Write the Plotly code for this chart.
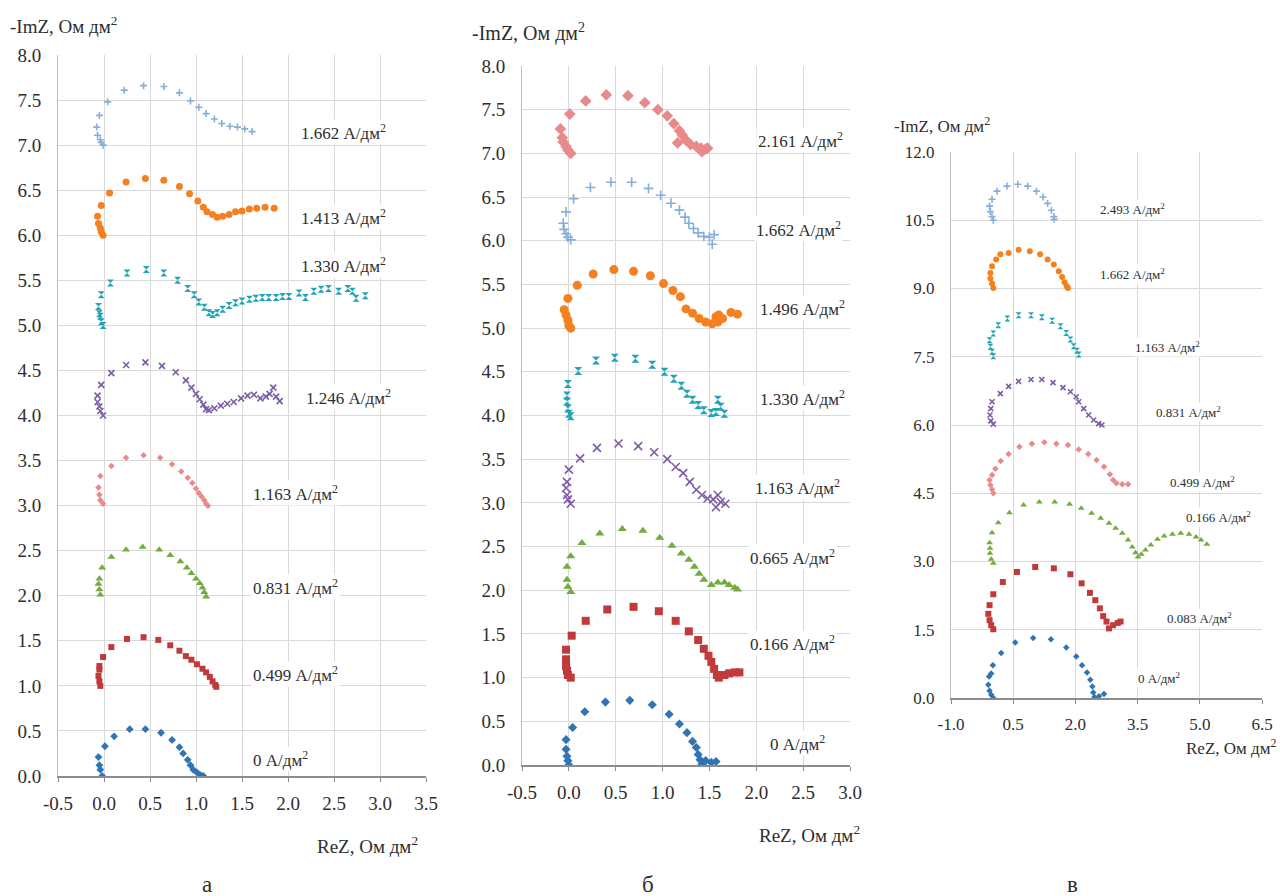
import plotly.graph_objects as go

# ---------------- Tick labels ----------------
ab_y_vals = [0.0, 0.5, 1.0, 1.5, 2.0, 2.5, 3.0, 3.5, 4.0, 4.5, 5.0, 5.5, 6.0, 6.5, 7.0, 7.5, 8.0]
ab_y_text = ["0.0", "0.5", "1.0", "1.5", "2.0", "2.5", "3.0", "3.5", "4.0", "4.5", "5.0", "5.5", "6.0", "6.5", "7.0", "7.5", "8.0"]
a_x_vals = [-0.5, 0.0, 0.5, 1.0, 1.5, 2.0, 2.5, 3.0, 3.5]
a_x_text = ["-0.5", "0.0", "0.5", "1.0", "1.5", "2.0", "2.5", "3.0", "3.5"]
b_x_vals = [-0.5, 0.0, 0.5, 1.0, 1.5, 2.0, 2.5, 3.0]
b_x_text = ["-0.5", "0.0", "0.5", "1.0", "1.5", "2.0", "2.5", "3.0"]
c_x_vals = [-1.0, 0.5, 2.0, 3.5, 5.0, 6.5]
c_x_text = ["-1.0", "0.5", "2.0", "3.5", "5.0", "6.5"]
c_y_vals = [0.0, 1.5, 3.0, 4.5, 6.0, 7.5, 9.0, 10.5, 12.0]
c_y_text = ["0.0", "1.5", "3.0", "4.5", "6.0", "7.5", "9.0", "10.5", "12.0"]

# ---------------- Panel а ----------------
a_labels = ["0 А/дм<sup>2</sup>", "0.499 А/дм<sup>2</sup>", "0.831 А/дм<sup>2</sup>", "1.163 А/дм<sup>2</sup>",
            "1.246 А/дм<sup>2</sup>", "1.330 А/дм<sup>2</sup>", "1.413 А/дм<sup>2</sup>", "1.662 А/дм<sup>2</sup>"]

a_0_re = [-0.02, -0.04, -0.05, -0.06, 0.01, 0.11, 0.28, 0.45, 0.62, 0.74, 0.82, 0.86, 0.91, 0.94, 0.97, 1.01, 1.05, 1.08]
a_0_im = [0.00, 0.07, 0.12, 0.21, 0.33, 0.44, 0.52, 0.52, 0.48, 0.40, 0.32, 0.25, 0.18, 0.12, 0.07, 0.04, 0.01, 0.00]

a_0499_re = [-0.04, -0.05, -0.06, -0.05, -0.05, -0.01, 0.08, 0.25, 0.43, 0.59, 0.72, 0.82, 0.89, 0.95, 1.01, 1.07, 1.11, 1.15, 1.18, 1.21, 1.22]
a_0499_im = [1.00, 1.05, 1.11, 1.18, 1.22, 1.32, 1.43, 1.52, 1.54, 1.51, 1.45, 1.39, 1.33, 1.29, 1.24, 1.19, 1.15, 1.10, 1.05, 1.01, 0.99]

a_0831_re = [-0.04, -0.05, -0.06, -0.05, -0.02, 0.08, 0.24, 0.42, 0.60, 0.72, 0.83, 0.90, 0.95, 1.00, 1.04, 1.07, 1.09, 1.11]
a_0831_im = [2.01, 2.07, 2.13, 2.19, 2.31, 2.43, 2.51, 2.54, 2.51, 2.45, 2.38, 2.31, 2.25, 2.19, 2.14, 2.09, 2.04, 1.99]

a_1163_re = [-0.01, -0.04, -0.05, -0.06, -0.04, 0.08, 0.24, 0.43, 0.61, 0.74, 0.84, 0.91, 0.96, 1.00, 1.03, 1.06, 1.09, 1.11, 1.13]
a_1163_im = [3.02, 3.06, 3.12, 3.20, 3.33, 3.44, 3.53, 3.56, 3.53, 3.46, 3.38, 3.31, 3.25, 3.19, 3.14, 3.10, 3.06, 3.02, 3.00]

a_1246_re = [-0.01, -0.04, -0.05, -0.07, -0.07, -0.03, 0.08, 0.24, 0.45, 0.63, 0.78, 0.89, 0.95, 1.00, 1.04, 1.08, 1.11,
             1.14, 1.20, 1.27, 1.34, 1.41, 1.49, 1.56, 1.63, 1.70, 1.76, 1.80, 1.84, 1.87, 1.91]
a_1246_im = [4.00, 4.05, 4.10, 4.15, 4.22, 4.34, 4.47, 4.56, 4.59, 4.55, 4.48, 4.39, 4.31, 4.24, 4.18, 4.12, 4.07,
             4.06, 4.08, 4.11, 4.13, 4.15, 4.19, 4.22, 4.23, 4.19, 4.21, 4.24, 4.31, 4.21, 4.16]

a_1330_re = [-0.01, -0.03, -0.04, -0.05, -0.06, -0.03, 0.07, 0.25, 0.46, 0.65, 0.80, 0.91, 0.98, 1.03, 1.09, 1.14, 1.18,
             1.23, 1.29, 1.36, 1.43, 1.50, 1.58, 1.65, 1.72, 1.79, 1.87, 1.94, 2.01, 2.12, 2.19, 2.28, 2.36, 2.44, 2.55,
             2.65, 2.70, 2.74, 2.84]
a_1330_im = [5.00, 5.04, 5.10, 5.13, 5.21, 5.34, 5.47, 5.58, 5.62, 5.58, 5.50, 5.41, 5.34, 5.26, 5.20, 5.14, 5.12,
             5.14, 5.18, 5.22, 5.25, 5.27, 5.29, 5.30, 5.31, 5.31, 5.31, 5.32, 5.32, 5.36, 5.31, 5.38, 5.40, 5.41, 5.38,
             5.41, 5.38, 5.30, 5.33]

a_1413_re = [-0.01, -0.03, -0.04, -0.06, -0.07, -0.03, 0.06, 0.24, 0.45, 0.65, 0.82, 0.93, 1.02, 1.08, 1.12, 1.18, 1.23,
             1.29, 1.36, 1.43, 1.50, 1.58, 1.66, 1.75, 1.85]
a_1413_im = [6.00, 6.04, 6.08, 6.13, 6.21, 6.33, 6.47, 6.59, 6.63, 6.61, 6.54, 6.46, 6.38, 6.31, 6.26, 6.23, 6.20,
             6.21, 6.23, 6.26, 6.27, 6.29, 6.30, 6.31, 6.30]

a_1662_re = [-0.01, -0.03, -0.04, -0.07, -0.08, -0.05, 0.04, 0.22, 0.43, 0.65, 0.82, 0.94, 1.03, 1.11, 1.20, 1.28, 1.37, 1.45, 1.53, 1.61]
a_1662_im = [7.00, 7.03, 7.06, 7.11, 7.20, 7.33, 7.48, 7.61, 7.66, 7.65, 7.58, 7.49, 7.42, 7.35, 7.29, 7.24, 7.21, 7.20, 7.18, 7.15]

# ---------------- Panel б ----------------
b_labels = ["0 А/дм<sup>2</sup>", "0.166 А/дм<sup>2</sup>", "0.665 А/дм<sup>2</sup>", "1.163 А/дм<sup>2</sup>",
            "1.330 А/дм<sup>2</sup>", "1.496 А/дм<sup>2</sup>", "1.662 А/дм<sup>2</sup>", "2.161 А/дм<sup>2</sup>"]

b_0_re = [0.00, -0.01, -0.02, -0.03, -0.03, 0.04, 0.17, 0.39, 0.65, 0.89, 1.07, 1.18, 1.26, 1.32, 1.36, 1.38, 1.40, 1.42, 1.46, 1.52, 1.57]
b_0_im = [0.00, 0.05, 0.10, 0.18, 0.29, 0.43, 0.61, 0.72, 0.74, 0.69, 0.58, 0.47, 0.37, 0.27, 0.20, 0.12, 0.06, 0.01, 0.05, 0.03, 0.04]

b_0166_re = [0.02, -0.01, -0.02, -0.03, -0.03, -0.03, 0.03, 0.18, 0.41, 0.69, 0.96, 1.14, 1.28, 1.38, 1.44, 1.49, 1.52, 1.55,
             1.58, 1.60, 1.66, 1.71, 1.77, 1.82]
b_0166_im = [1.00, 1.03, 1.08, 1.13, 1.21, 1.32, 1.48, 1.65, 1.78, 1.81, 1.76, 1.65, 1.53, 1.43, 1.33, 1.25, 1.18, 1.10,
             1.03, 1.00, 1.03, 1.05, 1.06, 1.06]

b_0665_re = [0.02, -0.01, -0.02, -0.02, 0.02, 0.14, 0.33, 0.57, 0.79, 0.97, 1.10, 1.20, 1.28, 1.34, 1.39, 1.44, 1.52, 1.59,
             1.66, 1.71, 1.77, 1.80]
b_0665_im = [1.98, 2.04, 2.12, 2.27, 2.39, 2.54, 2.65, 2.70, 2.68, 2.60, 2.51, 2.42, 2.35, 2.27, 2.19, 2.12, 2.06, 2.09,
             2.09, 2.06, 2.03, 2.01]

b_1163_re = [0.02, -0.01, -0.02, -0.03, -0.02, 0.00, 0.12, 0.30, 0.53, 0.74, 0.91, 1.05, 1.14, 1.22, 1.29, 1.36, 1.42, 1.48,
             1.54, 1.59, 1.57, 1.62, 1.67]
b_1163_im = [2.99, 3.04, 3.09, 3.17, 3.24, 3.38, 3.51, 3.63, 3.68, 3.65, 3.58, 3.50, 3.41, 3.34, 3.24, 3.15, 3.09, 3.05,
             3.04, 3.09, 2.95, 3.01, 2.99]

b_1330_re = [0.02, 0.00, -0.01, -0.02, -0.02, -0.01, 0.10, 0.29, 0.49, 0.71, 0.89, 1.02, 1.12, 1.20, 1.26, 1.32, 1.38, 1.44,
             1.52, 1.57, 1.59, 1.62, 1.66]
b_1330_im = [3.99, 4.02, 4.08, 4.16, 4.23, 4.36, 4.51, 4.63, 4.66, 4.65, 4.58, 4.50, 4.42, 4.34, 4.25, 4.18, 4.12, 4.06,
             4.03, 4.04, 4.18, 4.10, 4.02]

b_1496_re = [0.02, 0.00, -0.01, -0.03, -0.05, -0.01, 0.09, 0.26, 0.48, 0.69, 0.87, 1.01, 1.11, 1.19, 1.25, 1.32, 1.39, 1.46,
             1.53, 1.59, 1.60, 1.57, 1.64, 1.73, 1.80]
b_1496_im = [5.00, 5.03, 5.09, 5.15, 5.21, 5.34, 5.49, 5.62, 5.67, 5.65, 5.60, 5.51, 5.43, 5.36, 5.22, 5.17, 5.11, 5.07,
             5.05, 5.07, 5.15, 5.13, 5.11, 5.18, 5.16]

b_1662_re = [0.02, -0.01, -0.03, -0.05, -0.06, -0.03, 0.05, 0.23, 0.45, 0.67, 0.85, 0.98, 1.09, 1.18, 1.24, 1.28, 1.33, 1.38,
             1.44, 1.50, 1.55, 1.53]
b_1662_im = [6.01, 6.04, 6.08, 6.13, 6.20, 6.33, 6.48, 6.61, 6.67, 6.67, 6.60, 6.52, 6.43, 6.35, 6.27, 6.20, 6.14, 6.09,
             6.05, 6.04, 6.07, 5.96]

b_2161_re = [0.02, -0.01, -0.03, -0.06, -0.07, -0.09, 0.01, 0.18, 0.40, 0.63, 0.81, 0.95, 1.05, 1.12, 1.18, 1.21, 1.25, 1.16,
             1.30, 1.36, 1.41, 1.46, 1.42, 1.48]
b_2161_im = [7.00, 7.04, 7.08, 7.13, 7.18, 7.28, 7.45, 7.60, 7.67, 7.66, 7.58, 7.50, 7.43, 7.34, 7.26, 7.21, 7.15, 7.12,
             7.10, 7.08, 7.06, 7.05, 7.02, 7.06]

# ---------------- Panel в ----------------
c_labels = ["0 А/дм<sup>2</sup>", "0.083 А/дм<sup>2</sup>", "0.166 А/дм<sup>2</sup>", "0.499 А/дм<sup>2</sup>",
            "0.831 А/дм<sup>2</sup>", "1.163 А/дм<sup>2</sup>", "1.662 А/дм<sup>2</sup>", "2.493 А/дм<sup>2</sup>"]

c_0_re = [0.02, -0.03, -0.07, -0.10, -0.08, -0.03, 0.01, 0.21, 0.55, 0.98, 1.41, 1.78, 2.02, 2.16, 2.28, 2.36, 2.41, 2.43, 2.46, 2.57, 2.69]
c_0_im = [0.00, 0.07, 0.16, 0.29, 0.47, 0.54, 0.72, 0.99, 1.22, 1.32, 1.29, 1.11, 0.91, 0.72, 0.56, 0.40, 0.25, 0.12, 0.02, 0.04, 0.09]

c_0083_re = [0.02, -0.03, -0.07, -0.10, -0.07, 0.02, 0.25, 0.59, 1.03, 1.48, 1.88, 2.15, 2.35, 2.48, 2.59, 2.67, 2.75, 2.81,
             2.91, 3.02, 3.09]
c_0083_im = [1.51, 1.60, 1.71, 1.85, 2.04, 2.28, 2.55, 2.77, 2.88, 2.85, 2.72, 2.52, 2.31, 2.15, 1.97, 1.80, 1.68, 1.53,
             1.60, 1.65, 1.68]

c_0166_re = [0.02, -0.03, -0.06, -0.06, -0.07, -0.01, 0.14, 0.41, 0.75, 1.13, 1.50, 1.86, 2.14, 2.39, 2.61, 2.81, 2.97, 3.13,
             3.27, 3.37, 3.45, 3.51, 3.59, 3.69, 3.82, 3.98, 4.14, 4.34, 4.54, 4.74, 4.91, 5.03, 5.17]
c_0166_im = [2.96, 3.05, 3.18, 3.29, 3.41, 3.63, 3.85, 4.07, 4.24, 4.31, 4.31, 4.26, 4.17, 4.06, 3.95, 3.84, 3.73, 3.62,
             3.47, 3.32, 3.19, 3.10, 3.16, 3.25, 3.36, 3.49, 3.56, 3.60, 3.62, 3.60, 3.54, 3.47, 3.38]

c_0499_re = [0.02, -0.01, -0.05, -0.07, -0.01, 0.07, 0.20, 0.39, 0.65, 0.95, 1.25, 1.54, 1.82, 2.08, 2.31, 2.51, 2.69, 2.83,
             2.91, 2.99, 3.13, 3.27]
c_0499_im = [4.50, 4.58, 4.68, 4.79, 4.90, 5.04, 5.21, 5.36, 5.52, 5.59, 5.62, 5.59, 5.56, 5.46, 5.36, 5.23, 5.08, 4.92,
             4.79, 4.72, 4.70, 4.70]

c_0831_re = [0.02, -0.04, -0.06, -0.04, -0.01, 0.19, 0.39, 0.63, 0.93, 1.19, 1.46, 1.70, 1.88, 2.02, 2.08, 2.20, 2.32, 2.44, 2.56, 2.64]
c_0831_im = [6.02, 6.09, 6.22, 6.36, 6.51, 6.69, 6.85, 6.96, 7.00, 7.00, 6.93, 6.82, 6.73, 6.62, 6.51, 6.36, 6.22, 6.11, 6.03, 6.00]

c_1163_re = [0.02, -0.01, -0.05, -0.07, 0.02, 0.14, 0.36, 0.63, 0.93, 1.19, 1.44, 1.64, 1.78, 1.88, 1.96, 2.04, 2.08]
c_1163_im = [7.51, 7.61, 7.72, 7.86, 8.01, 8.19, 8.34, 8.41, 8.41, 8.37, 8.29, 8.17, 8.02, 7.88, 7.73, 7.63, 7.55]

c_1662_re = [0.02, -0.01, -0.05, -0.05, -0.01, 0.09, 0.19, 0.39, 0.63, 0.90, 1.15, 1.33, 1.48, 1.60, 1.68, 1.74, 1.79, 1.82]
c_1662_im = [9.01, 9.11, 9.22, 9.34, 9.49, 9.64, 9.75, 9.78, 9.85, 9.82, 9.75, 9.64, 9.53, 9.38, 9.25, 9.14, 9.05, 9.01]

c_2493_re = [0.02, -0.01, -0.05, -0.07, -0.01, 0.11, 0.35, 0.61, 0.85, 1.06, 1.22, 1.33, 1.42, 1.48, 1.49]
c_2493_im = [10.50, 10.58, 10.69, 10.81, 10.96, 11.14, 11.25, 11.29, 11.25, 11.14, 11.01, 10.87, 10.72, 10.58, 10.52]

# ---------------- Styling ----------------
BLUE = "#2f74b5"
RED = "#c0393b"
GREEN = "#72ac3f"
PINK = "#e98a8a"
PURPLE = "#7d5ba6"
TEAL = "#23a3b5"
ORANGE = "#f4801f"
LBLUE = "#86aedc"
SERIF = "Liberation Serif"
TXT = "#2e2e2e"

W, H = 1280, 896


def fx(px):
    return px / W


def fy(py):
    return 1 - py / H


def marker(kind, color, size):
    if kind in ("x-thin", "cross-thin"):
        return dict(symbol=kind, size=size, color=color, line=dict(width=1.6, color=color))
    return dict(symbol=kind, size=size, color=color, line=dict(width=0))


fig = go.Figure()

panel_a = [
    (a_0_re, a_0_im, "diamond", BLUE, 6),
    (a_0499_re, a_0499_im, "square", RED, 6),
    (a_0831_re, a_0831_im, "triangle-up", GREEN, 7),
    (a_1163_re, a_1163_im, "diamond", PINK, 5),
    (a_1246_re, a_1246_im, "x-thin", PURPLE, 6),
    (a_1330_re, a_1330_im, "hourglass", TEAL, 7),
    (a_1413_re, a_1413_im, "circle", ORANGE, 7),
    (a_1662_re, a_1662_im, "cross-thin", LBLUE, 5),
]
panel_b = [
    (b_0_re, b_0_im, "diamond", BLUE, 7),
    (b_0166_re, b_0166_im, "square", RED, 8),
    (b_0665_re, b_0665_im, "triangle-up", GREEN, 8),
    (b_1163_re, b_1163_im, "x-thin", PURPLE, 8),
    (b_1330_re, b_1330_im, "hourglass", TEAL, 8),
    (b_1496_re, b_1496_im, "circle", ORANGE, 9),
    (b_1662_re, b_1662_im, "cross-thin", LBLUE, 7),
    (b_2161_re, b_2161_im, "diamond", PINK, 9),
]
panel_c = [
    (c_0_re, c_0_im, "diamond", BLUE, 5),
    (c_0083_re, c_0083_im, "square", RED, 6),
    (c_0166_re, c_0166_im, "triangle-up", GREEN, 6),
    (c_0499_re, c_0499_im, "diamond", PINK, 5),
    (c_0831_re, c_0831_im, "x-thin", PURPLE, 5),
    (c_1163_re, c_1163_im, "hourglass", TEAL, 6),
    (c_1662_re, c_1662_im, "circle", ORANGE, 6),
    (c_2493_re, c_2493_im, "cross-thin", LBLUE, 5),
]

for series, (xa, ya) in ((panel_a, ("x", "y")), (panel_b, ("x2", "y2")), (panel_c, ("x3", "y3"))):
    for re_, im_, sym, col, sz in series:
        fig.add_trace(go.Scatter(x=re_, y=im_, mode="markers", xaxis=xa, yaxis=ya,
                                 marker=marker(sym, col, sz), showlegend=False, hoverinfo="skip"))

# label placements (data coords)
a_pos = [(1.60, 0.19), (1.60, 1.13), (1.60, 2.10), (1.60, 3.14), (2.17, 4.20), (2.12, 5.67), (2.12, 6.20), (2.12, 7.15)]
b_pos = [(2.13, 0.25), (1.91, 1.40), (1.91, 2.38), (1.96, 3.18), (2.02, 4.20), (2.02, 5.23), (1.98, 6.14), (2.00, 7.15)]
c_pos = [(3.45, 0.44), (4.15, 1.76), (4.61, 3.98), (4.23, 4.74), (3.89, 6.28), (3.39, 7.71), (2.55, 9.31), (2.55, 10.74)]

annotations = []
for labels, pos, xr, yr, fs in ((a_labels, a_pos, "x", "y", 17), (b_labels, b_pos, "x2", "y2", 17),
                                 (c_labels, c_pos, "x3", "y3", 13)):
    for t, (px, py) in zip(labels, pos):
        annotations.append(dict(x=px, y=py, xref=xr, yref=yr, text=t, showarrow=False, xanchor="left",
                                yanchor="middle", bgcolor="white", borderpad=1,
                                font=dict(family=SERIF, size=fs, color=TXT)))


def paper(px, py, text, size, xanchor="left", yanchor="middle"):
    return dict(x=fx(px), y=fy(py), xref="paper", yref="paper", text=text, showarrow=False,
                xanchor=xanchor, yanchor=yanchor, font=dict(family=SERIF, size=size, color=TXT))


annotations += [
    paper(8, 25, "-ImZ, Ом дм<sup>2</sup>", 19),
    paper(315, 845, "ReZ, Ом дм<sup>2</sup>", 19),
    paper(207, 884, "а", 23, "center"),
    paper(470, 33, "-ImZ, Ом дм<sup>2</sup>", 20),
    paper(757, 834, "ReZ, Ом дм<sup>2</sup>", 19),
    paper(648, 884, "б", 23, "center"),
    paper(892, 125, "-ImZ, Ом дм<sup>2</sup>", 17),
    paper(1184, 747, "ReZ, Ом дм<sup>2</sup>", 17),
    paper(1072, 884, "в", 23, "center"),
]


def xaxis(dom, rng, vals, text, anchor, fs):
    return dict(domain=dom, range=rng, tickvals=vals, ticktext=text, anchor=anchor, automargin=False,
                showgrid=True, gridcolor="#d9d9d9", gridwidth=1, zeroline=False,
                showline=True, linecolor="#8c8c8c", linewidth=1.5, ticks="outside", ticklen=4,
                tickcolor="#8c8c8c", ticklabelstandoff=6, ticklabeloverflow="allow",
                tickfont=dict(family=SERIF, size=fs, color=TXT), fixedrange=True)


def yaxis(dom, rng, vals, text, anchor, fs):
    return dict(domain=dom, range=rng, tickvals=vals, ticktext=text, anchor=anchor, automargin=False,
                showgrid=True, gridcolor="#d9d9d9", gridwidth=1, zeroline=False,
                showline=True, linecolor="#bfbfbf", linewidth=1, ticks="", ticklabelstandoff=12,
                ticklabeloverflow="allow",
                tickfont=dict(family=SERIF, size=fs, color=TXT), fixedrange=True)


fig.update_layout(
    width=W, height=H, margin=dict(l=0, r=0, t=0, b=0),
    paper_bgcolor="white", plot_bgcolor="white",
    xaxis=xaxis([fx(58), fx(426)], [-0.5, 3.5], a_x_vals, a_x_text, "y", 19),
    yaxis=yaxis([fy(776), fy(55)], [0, 8], ab_y_vals, ab_y_text, "x", 19),
    xaxis2=xaxis([fx(522), fx(850)], [-0.5, 3.0], b_x_vals, b_x_text, "y2", 19),
    yaxis2=yaxis([fy(765), fy(66)], [0, 8], ab_y_vals, ab_y_text, "x2", 19),
    xaxis3=xaxis([fx(951), fx(1262)], [-1.0, 6.5], c_x_vals, c_x_text, "y3", 17),
    yaxis3=yaxis([fy(698), fy(152)], [0, 12], c_y_vals, c_y_text, "x3", 17),
    annotations=annotations,
)

# remove the browser's default 8 px body margin so the 1280x896 figure fills the window exactly
fig.write_html("out.html", config={"displayModeBar": False, "staticPlot": True},
               post_script="document.body.style.margin='0';document.body.style.overflow='hidden';")
